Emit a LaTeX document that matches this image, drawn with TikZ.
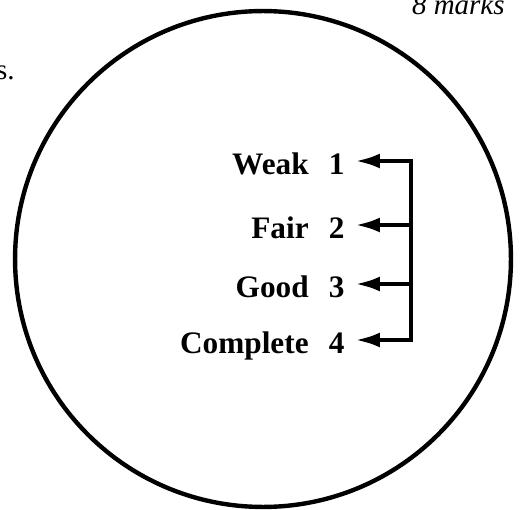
\documentclass[tikz,border=0pt]{standalone}
\usepackage{fontspec}
\setmainfont{Liberation Serif}
\usetikzlibrary{arrows.meta}

\begin{document}
\begin{tikzpicture}[x=0.02cm, y=-0.02cm, >={Latex[length=14.2pt, width=8.5pt]},
		lvl/.style={font=\fontsize{17.8}{20}\selectfont\bfseries, inner xsep=5.7pt, inner ysep=0pt, anchor=base east},
		conn/.style={line width=2.5pt}]
	\useasboundingbox (0,0) rectangle (521,510);
	\draw[line width=2.5pt] (263,259) circle[radius=4.96cm];
	\node[font=\fontsize{16.5}{19}\selectfont\itshape, anchor=base east, inner sep=0pt] (marks) at (505,15) {8 marks};
	\node[font=\fontsize{16.5}{19}\selectfont, anchor=base east, inner sep=0pt] (prev) at (15,80) {s.};

	\node[lvl] (weak) at (355,174) {Weak\hspace{0.65em}1};
	\node[lvl] (fair) at (355,238) {Fair\hspace{0.65em}2};
	\node[lvl] (good) at (355,297) {Good\hspace{0.65em}3};
	\node[lvl] (complete) at (355,353) {Complete\hspace{0.65em}4};

	\coordinate (t1) at (411,161);
	\coordinate (t2) at (411,225);
	\coordinate (t3) at (411,284);
	\coordinate (t4) at (411,340);

	\draw[conn, <->] (t1 -| weak.east) -- (t1) -- (t4) -- (t4 -| complete.east);
	\draw[conn, ->] (t2) -- (t2 -| fair.east);
	\draw[conn, ->] (t3) -- (t3 -| good.east);
\end{tikzpicture}
\end{document}
